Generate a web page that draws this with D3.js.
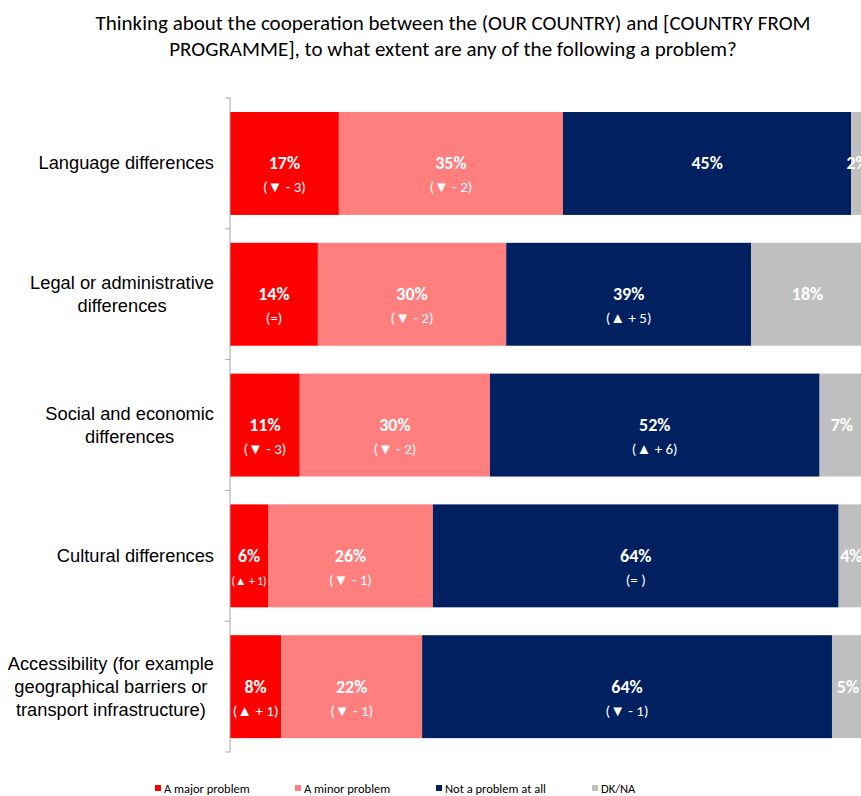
<!DOCTYPE html>
<html>
<head>
<meta charset="utf-8">
<script src="https://cdn.jsdelivr.net/npm/d3@7"></script>
<style>
  html, body { margin: 0; padding: 0; background: #fff; }
  svg { display: block; }
</style>
</head>
<body>
<svg id="chart" width="861" height="796"></svg>
<script>
// Survey question and answer categories
const titleLines = [
  "Thinking about the cooperation between the (OUR COUNTRY) and [COUNTRY FROM",
  "PROGRAMME], to what extent are any of the following a problem?"
];
const categories = [
  ["Language differences"],
  ["Legal or administrative", "differences"],
  ["Social and economic", "differences"],
  ["Cultural differences"],
  ["Accessibility (for example", "geographical barriers or", "transport infrastructure)"]
];
const seriesNames = ["A major problem", "A minor problem", "Not a problem at all", "DK/NA"];
const seriesColors = ["#ff0000", "#ff7f7f", "#002060", "#bfbfbf"];

// Percentages per category, in series order
const majorProblem = [17, 14, 11, 6, 8];
const minorProblem = [35, 30, 30, 26, 22];
const notAProblem  = [45, 39, 52, 64, 64];
const dkNa         = [2, 18, 7, 4, 5];

// Change versus the previous wave ("" = not shown)
const majorChange = ["(▼ - 3)", "(=)", "(▼ - 3)", "(▲ + 1)", "(▲ + 1)"];
const minorChange = ["(▼ - 2)", "(▼ - 2)", "(▼ - 2)", "(▼ - 1)", "(▼ - 1)"];
const notChange   = ["", "(▲ + 5)", "(▲ + 6)", "(= )", "(▼ - 1)"];
const dkChange    = ["", "", "", "", ""];

const seriesValues = [majorProblem, minorProblem, notAProblem, dkNa];
const seriesChanges = [majorChange, minorChange, notChange, dkChange];

const keys = seriesNames;
const rows = categories.map((c, i) => {
  const r = { idx: i };
  keys.forEach((k, j) => { r[k] = seriesValues[j][i]; });
  return r;
});

const svg = d3.select("#chart");
const labelFont = "'Liberation Sans', Arial, sans-serif";
const uiFont = "Carlito, Lato, 'Open Sans', sans-serif";

// Title
svg.append("text")
  .attr("x", 453).attr("y", 30)
  .attr("text-anchor", "middle")
  .attr("font-family", uiFont)
  .attr("font-size", 21)
  .attr("fill", "#000")
  .selectAll("tspan").data(titleLines).join("tspan")
  .attr("x", 453)
  .attr("dy", (d, i) => i === 0 ? 0 : 26)
  .text(d => d);

// Scales
const x = d3.scaleLinear().domain([0, 1]).range([230, 864]);
const y = d3.scaleBand().domain(d3.range(categories.length)).range([98, 752]).paddingInner(0).paddingOuter(0);
const barInset = y.bandwidth() * 0.107;
const barH = y.bandwidth() * 0.787;

// 100% stacked layout
const stacked = d3.stack().keys(keys).offset(d3.stackOffsetExpand)(rows);

const g = svg.append("g");
stacked.forEach((layer, si) => {
  const lg = g.append("g").attr("fill", seriesColors[si]);
  lg.selectAll("rect").data(layer).join("rect")
    .attr("x", d => x(d[0]))
    .attr("y", d => y(d.data.idx) + barInset)
    .attr("width", d => x(d[1]) - x(d[0]))
    .attr("height", barH);
});

// Category axis with ticks between bands
const axis = svg.append("g");
axis.append("line")
  .attr("x1", 230).attr("x2", 230)
  .attr("y1", y.range()[0]).attr("y2", y.range()[1])
  .attr("stroke", "#a6a6a6").attr("stroke-width", 1);
const tickYs = d3.range(categories.length + 1).map(i => y.range()[0] + i * y.step());
axis.selectAll("line.tick").data(tickYs).join("line")
  .attr("class", "tick")
  .attr("x1", 225).attr("x2", 230)
  .attr("y1", d => d).attr("y2", d => d)
  .attr("stroke", "#a6a6a6").attr("stroke-width", 1);

// Category labels: each block sits against the axis, its lines centred within it
const labelRight = 214;
categories.forEach((lines, i) => {
  const cy = y(i) + y.bandwidth() / 2;
  const lh = 23;
  const t = svg.append("text")
    .attr("text-anchor", "middle")
    .attr("font-family", labelFont)
    .attr("font-size", 18.3)
    .attr("fill", "#000");
  const spans = lines.map((ln, k) => t.append("tspan")
    .attr("y", cy + (k - (lines.length - 1) / 2) * lh + 6)
    .text(ln));
  const widest = d3.max(spans, s => s.node().getComputedTextLength());
  spans.forEach(s => s.attr("x", labelRight - widest / 2));
});

// Value and change labels
stacked.forEach((layer, si) => {
  layer.forEach((d, i) => {
    const cx = (x(d[0]) + x(d[1])) / 2;
    const cy = y(i) + y.bandwidth() / 2;
    const small = (x(d[1]) - x(d[0])) < 45;
    svg.append("text")
      .attr("x", cx).attr("y", cy + 6)
      .attr("text-anchor", "middle")
      .attr("font-family", uiFont)
      .attr("font-weight", "bold")
      .attr("font-size", 18)
      .attr("fill", "#fff")
      .text(seriesValues[si][i] + "%");
    const ch = seriesChanges[si][i];
    if (ch) {
      svg.append("text")
        .attr("x", cx).attr("y", cy + 29)
        .attr("text-anchor", "middle")
        .attr("font-family", uiFont)
        .attr("font-size", small ? 11.5 : 15)
        .attr("fill", "#fff")
        .text(ch);
    }
  });
});

// Legend
const legendX = [155, 295, 436, 592];
const legend = svg.append("g");
seriesNames.forEach((name, i) => {
  legend.append("rect")
    .attr("x", legendX[i]).attr("y", 785)
    .attr("width", 6).attr("height", 6)
    .attr("fill", seriesColors[i]);
  legend.append("text")
    .attr("x", legendX[i] + 9).attr("y", 793)
    .attr("font-family", uiFont)
    .attr("font-size", 12.5)
    .attr("fill", "#000")
    .text(name);
});
</script>
</body>
</html>
